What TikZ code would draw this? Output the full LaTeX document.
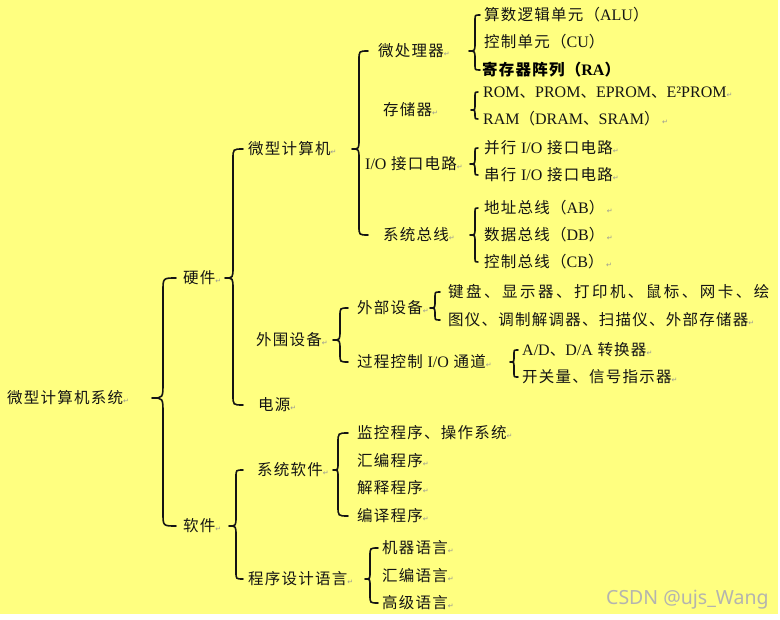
\documentclass[tikz,border=0pt]{standalone}
\usepackage{fontspec}
\usetikzlibrary{calc}
\setmainfont{Liberation Serif}
\newfontfamily\cjk{Noto Sans CJK SC}[LetterSpace=8]
\newfontfamily\cjkwide{Noto Sans CJK SC}[LetterSpace=16]
\newfontfamily\latn{Liberation Serif}
\newfontfamily\symf{DejaVu Sans}
\newfontfamily\wmf{Noto Sans}
\definecolor{bgy}{RGB}{255,255,128}
\definecolor{txt}{RGB}{20,20,20}
\definecolor{markgray}{RGB}{150,150,150}
\definecolor{wmc}{RGB}{180,180,175}
\newcommand\LT[1]{{\latn\fontsize{16}{18}\selectfont #1}}
\newcommand\retmk{{\symf\fontsize{7}{8}\selectfont\color{markgray}↵}}
\tikzset{
  lbl/.style={anchor=west, inner sep=0pt, text height=13.5pt, text depth=2pt,
    font=\cjk\fontsize{15.5}{18}\selectfont, text=txt},
  bracestyle/.style={draw=txt, line width=1.6pt, line cap=round, line join=round}
}
\newcommand\cbrace[6]{%
 \draw[bracestyle] let \p1=(#1.center), \p2=(#2.west), \p3=(#3.west) in
  (#4pt,\y2) .. controls (#4pt-#5pt,\y2) .. (#4pt-#5pt,\y2-#5pt)
  -- (#4pt-#5pt,\y1+1.4*#6pt) .. controls (#4pt-#5pt,\y1) .. (#4pt-#5pt-#6pt,\y1)
  .. controls (#4pt-#5pt,\y1) .. (#4pt-#5pt,\y1-1.4*#6pt)
  -- (#4pt-#5pt,\y3+#5pt) .. controls (#4pt-#5pt,\y3) .. (#4pt,\y3);}
\begin{document}
\begin{tikzpicture}[x=1pt,y=-1pt]
\useasboundingbox (0,0) rectangle (780,620);
\fill[white] (0,0) rectangle (780,620);
\fill[bgy] (0,0) rectangle (778,614);
% level 0-2
\node[lbl] (sys) at (7,398) {微型计算机系统\retmk};
\node[lbl] (hw) at (183,278) {硬件\retmk};
\node[lbl] (sw) at (183,526) {软件\retmk};
\node[lbl] (mc) at (248,149) {微型计算机\retmk};
\node[lbl] (pe) at (256,340) {外围设备\retmk};
\node[lbl] (ps) at (258,405) {电源\retmk};
\node[lbl] (ss) at (257,470) {系统软件\retmk};
\node[lbl] (pl) at (248,579) {程序设计语言\retmk};
% level 3
\node[lbl] (cpu) at (378,51) {微处理器\retmk};
\node[lbl] (mem) at (383,110) {存储器\retmk};
\node[lbl] (io) at (365,164) {\LT{I/O} 接口电路\retmk};
\node[lbl] (bus) at (383,235) {系统总线\retmk};
\node[lbl] (ext) at (357,308) {外部设备\retmk};
\node[lbl] (pc) at (357,362) {过程控制 \LT{I/O} 通道\retmk};
\node[lbl] (mon) at (357,433) {监控程序、操作系统\retmk};
\node[lbl] (asm) at (357,461) {汇编程序\retmk};
\node[lbl] (int) at (357,488) {解释程序\retmk};
\node[lbl] (cmp) at (357,516) {编译程序\retmk};
\node[lbl] (ml) at (382,548) {机器语言\retmk};
\node[lbl] (al) at (382,576) {汇编语言\retmk};
\node[lbl] (hl) at (382,603) {高级语言\retmk};
% level 4
\node[lbl] (alu) at (484,15) {算数逻辑单元（\LT{ALU}）};
\node[lbl] (cu) at (484,42) {控制单元（\LT{CU}）};
\node[lbl,text=black] (ra) at (482,70) {\bfseries 寄存器阵列（\LT{\bfseries RA}）};
\node[lbl] (rom) at (483,92) {\LT{ROM}、\LT{PROM}、\LT{EPROM}、\LT{E²PROM}\retmk};
\node[lbl] (ram) at (483,119) {\LT{RAM}（\LT{DRAM}、\LT{SRAM}）\,\retmk};
\node[lbl] (pio) at (484,148) {并行 \LT{I/O} 接口电路\retmk};
\node[lbl] (sio) at (484,175) {串行 \LT{I/O} 接口电路\retmk};
\node[lbl] (ab) at (484,208) {地址总线（\LT{AB}）\,\retmk};
\node[lbl] (db) at (484,235) {数据总线（\LT{DB}）\,\retmk};
\node[lbl] (cb) at (484,262) {控制总线（\LT{CB}）\,\retmk};
\node[lbl,font=\cjkwide\fontsize{15.5}{18}\selectfont] (dev1) at (448,292) {键盘、显示器、打印机、鼠标、网卡、绘};
\node[lbl] (dev2) at (448,320) {图仪、调制解调器、扫描仪、外部存储器\retmk};
\node[lbl] (ad) at (522,350) {\LT{A/D}、\LT{D/A} 转换器\retmk};
\node[lbl] (sw2) at (522,377) {开关量、信号指示器\retmk};
% braces
\cbrace{sys}{hw}{sw}{176}{13}{11}
\cbrace{hw}{mc}{ps}{243}{10}{8}
\cbrace{sw}{ss}{pl}{243}{7}{7}
\cbrace{mc}{cpu}{bus}{368}{9}{7}
\cbrace{cpu}{alu}{ra}{480}{5}{6}
\cbrace{mem}{rom}{ram}{478}{3}{4}
\cbrace{io}{pio}{sio}{478}{3}{5}
\cbrace{bus}{ab}{cb}{478}{3}{5}
\cbrace{pe}{ext}{pc}{348}{8}{7}
\cbrace{ext}{dev1}{dev2}{440}{5}{5}
\cbrace{pc}{ad}{sw2}{518}{4}{4}
\cbrace{ss}{mon}{cmp}{348}{10}{5}
\cbrace{pl}{ml}{hl}{378}{8}{5}
% watermark
\node[anchor=west, inner sep=0pt, font=\wmf\fontsize{19.5}{20}\selectfont, text=wmc] (wm) at (606,600) {CSDN @ujs\_Wang};
\end{tikzpicture}
\end{document}
